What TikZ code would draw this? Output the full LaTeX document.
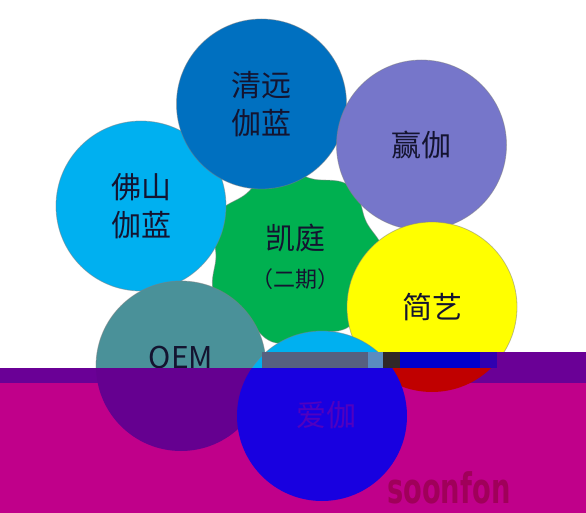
\documentclass[tikz,border=0pt]{standalone}
\usepackage{fontspec}
\newfontfamily\cjk{Noto Sans CJK SC}
\newfontfamily\markfont{DejaVu Sans}
\definecolor{txt}{HTML}{141430}
\definecolor{qingyuanc}{HTML}{0070C0}
\definecolor{yingjiac}{HTML}{7676CA}
\definecolor{foshanc}{HTML}{00B0F0}
\definecolor{kaitingc}{HTML}{00B050}
\definecolor{jianyic}{HTML}{FFFF00}
\definecolor{oemc}{HTML}{4A9199}
\definecolor{aijiac}{HTML}{00B0F0}
\definecolor{bandmagenta}{HTML}{C0008A}
\definecolor{bandpurple}{HTML}{6A0096}
\definecolor{oemband}{HTML}{650090}
\definecolor{aijiaband}{HTML}{1800E0}
\definecolor{jianyiband}{HTML}{C00000}
\definecolor{stripgray}{HTML}{566080}
\definecolor{striplight}{HTML}{5A8CC0}
\definecolor{stripdark}{HTML}{302828}
\definecolor{stripblue}{HTML}{0000CC}
\definecolor{stripnavy}{HTML}{3000B0}
\definecolor{marktxt}{HTML}{A0005A}
\definecolor{aijiabandtxt}{HTML}{5000C0}
\tikzset{
  brandtext/.style={align=center, text=txt, inner sep=0pt, font=\cjk\fontsize{30}{38}\selectfont},
  brand/.style={brandtext, circle, minimum size=170pt, draw=gray, draw opacity=0.5, line width=0.8pt},
}
\begin{document}
\begin{tikzpicture}[x=1pt,y=-1pt]
\useasboundingbox (0,0) rectangle (586,513);
\fill[white] (0,0) rectangle (586,513);
% centre shape
\filldraw[fill=kaitingc, draw=gray, draw opacity=0.5, line width=0.8pt] plot[smooth cycle, domain=0:355, samples=72] ({295+(84+5*cos(7*\x))*cos(\x)},{256+(84+5*cos(7*\x))*sin(\x)});
\node[brandtext] (kaiting) at (295,257) {凯庭\\{\fontsize{22}{30}\selectfont （二期）}};
% ring of circles
\node[brand, fill=foshanc] (foshan) at (141,206) {佛山\\伽蓝};
\node[brand, fill=qingyuanc] (qingyuan) at (261.5,104) {清远\\伽蓝};
\node[brand, fill=yingjiac] (yingjia) at (421.5,145) {赢伽};
\node[brand, fill=jianyic] (jianyi) at (432,307) {简艺};
\node[brand, fill=oemc] (oem) at (181,366) {};
\node[brandtext] (oemtext) at (181,358) {OEM};
\node[brand, fill=aijiac] (aijia) at (322,416) {};
% broken band
\fill[stripgray] (262,352) rectangle (368,368);
\fill[striplight] (368,352) rectangle (383,368);
\fill[stripdark] (383,352) rectangle (400,368);
\fill[stripblue] (400,352) rectangle (480,368);
\fill[stripnavy] (480,352) rectangle (497,368);
\fill[bandpurple] (497,352) rectangle (586,368);
\begin{scope}
\clip (0,368) rectangle (586,383);
\fill[bandpurple] (0,368) rectangle (586,383);
\fill[jianyiband] (jianyi.center) circle (85pt);
\fill[oemband] (oem.center) circle (85pt);
\fill[aijiaband] (aijia.center) circle (85pt);
\end{scope}
\begin{scope}
\clip (0,383) rectangle (586,513);
\fill[bandmagenta] (0,383) rectangle (586,513);
\fill[jianyiband] (jianyi.center) circle (85pt);
\fill[oemband] (oem.center) circle (85pt);
\fill[aijiaband] (aijia.center) circle (85pt);
\end{scope}
\node[brandtext, text=aijiabandtxt] (aijiatext) at (326,415) {爱伽};
\node[anchor=base west, inner sep=0pt, text=marktxt] (soonfon) at (387,503) {\scalebox{0.65}[1]{\markfont\bfseries\fontsize{42}{42}\selectfont soonfon}};
\end{tikzpicture}
\end{document}
